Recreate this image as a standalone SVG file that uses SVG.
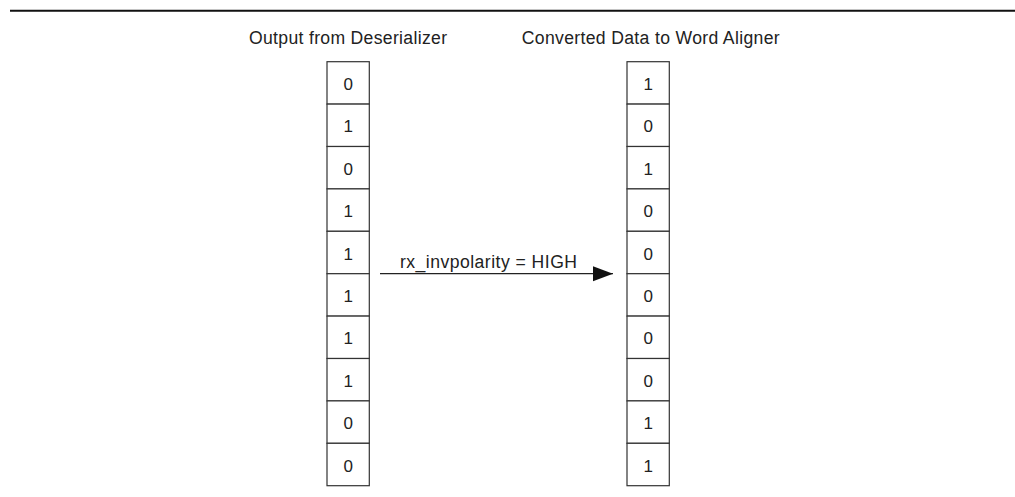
<svg xmlns="http://www.w3.org/2000/svg" width="1015" height="497" viewBox="0 0 1015 497">
<style>
.cell{fill:#fff;stroke:#333;stroke-width:1.2}
.t{font-family:"Liberation Sans",Arial,sans-serif;font-size:17.6px;fill:#222}
.d{font-family:"Liberation Sans",Arial,sans-serif;font-size:17px;fill:#222;text-anchor:middle}
.conn{stroke:#222;stroke-width:1.2;fill:none}
</style>
<defs>
<marker id="ah" markerUnits="userSpaceOnUse" markerWidth="21" markerHeight="16" refX="20" refY="7.5" orient="auto">
<path d="M0,0 L20,7.5 L0,15 z" fill="#111"/>
</marker>
</defs>
<line x1="10" y1="10.7" x2="1015" y2="10.7" stroke="#111" stroke-width="2"/>
<g id="title-left"><text class="t" x="249" y="44" textLength="198" lengthAdjust="spacing">Output from Deserializer</text></g>
<g id="title-right"><text class="t" x="521.7" y="44" textLength="258" lengthAdjust="spacing">Converted Data to Word Aligner</text></g>
<g id="col-left">
<rect class="cell" x="327" y="61.7" width="42.3" height="42.4"/><text class="d" x="348.2" y="90">0</text>
<rect class="cell" x="327" y="104.1" width="42.3" height="42.4"/><text class="d" x="348.2" y="132.4">1</text>
<rect class="cell" x="327" y="146.5" width="42.3" height="42.4"/><text class="d" x="348.2" y="174.8">0</text>
<rect class="cell" x="327" y="188.9" width="42.3" height="42.4"/><text class="d" x="348.2" y="217.2">1</text>
<rect class="cell" x="327" y="231.3" width="42.3" height="42.4"/><text class="d" x="348.2" y="259.6">1</text>
<rect class="cell" x="327" y="273.7" width="42.3" height="42.4"/><text class="d" x="348.2" y="302">1</text>
<rect class="cell" x="327" y="316.1" width="42.3" height="42.4"/><text class="d" x="348.2" y="344.4">1</text>
<rect class="cell" x="327" y="358.5" width="42.3" height="42.4"/><text class="d" x="348.2" y="386.8">1</text>
<rect class="cell" x="327" y="400.9" width="42.3" height="42.4"/><text class="d" x="348.2" y="429.2">0</text>
<rect class="cell" x="327" y="443.3" width="42.3" height="42.4"/><text class="d" x="348.2" y="471.6">0</text>
</g>
<g id="col-right">
<rect class="cell" x="627" y="61.7" width="42.3" height="42.4"/><text class="d" x="648.2" y="90">1</text>
<rect class="cell" x="627" y="104.1" width="42.3" height="42.4"/><text class="d" x="648.2" y="132.4">0</text>
<rect class="cell" x="627" y="146.5" width="42.3" height="42.4"/><text class="d" x="648.2" y="174.8">1</text>
<rect class="cell" x="627" y="188.9" width="42.3" height="42.4"/><text class="d" x="648.2" y="217.2">0</text>
<rect class="cell" x="627" y="231.3" width="42.3" height="42.4"/><text class="d" x="648.2" y="259.6">0</text>
<rect class="cell" x="627" y="273.7" width="42.3" height="42.4"/><text class="d" x="648.2" y="302">0</text>
<rect class="cell" x="627" y="316.1" width="42.3" height="42.4"/><text class="d" x="648.2" y="344.4">0</text>
<rect class="cell" x="627" y="358.5" width="42.3" height="42.4"/><text class="d" x="648.2" y="386.8">0</text>
<rect class="cell" x="627" y="400.9" width="42.3" height="42.4"/><text class="d" x="648.2" y="429.2">1</text>
<rect class="cell" x="627" y="443.3" width="42.3" height="42.4"/><text class="d" x="648.2" y="471.6">1</text>
</g>
<g id="connectors">
<line class="conn" x1="380" y1="273.7" x2="613" y2="273.7" marker-end="url(#ah)"/>
<text class="t" x="400" y="267.5" textLength="177" lengthAdjust="spacing">rx_invpolarity = HIGH</text>
</g>
</svg>
